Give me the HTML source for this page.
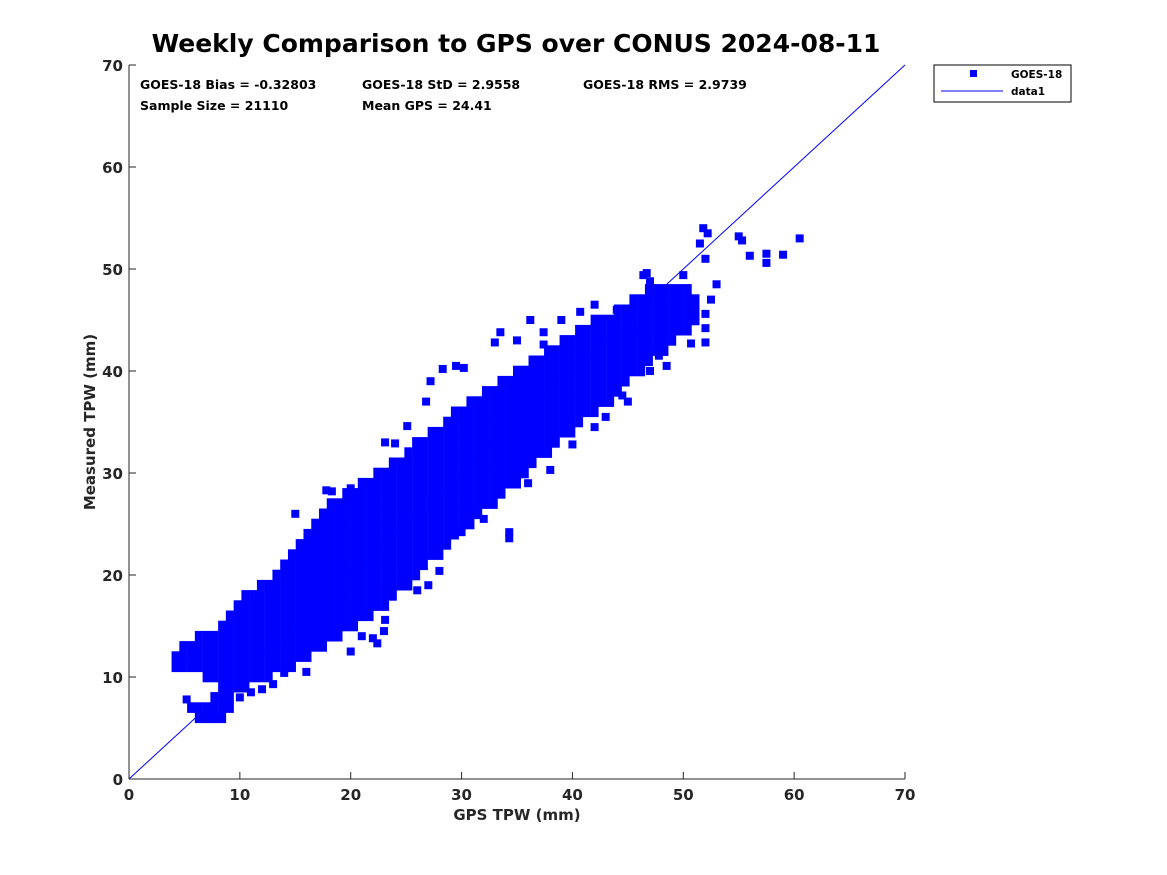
<!DOCTYPE html>
<html><head><meta charset="utf-8"><style>
body{margin:0;background:#fff;}
svg{display:block;font-family:"DejaVu Sans","Liberation Sans",sans-serif;}
</style></head><body>
<svg id="chart" width="1167" height="875">
<rect width="1167" height="875" fill="#fff"/>
<text x="516" y="52" text-anchor="middle" font-size="25" font-weight="bold" fill="#000">Weekly Comparison to GPS over CONUS 2024-08-11</text>
<g id="axes"></g>
<g id="pts"></g>
<g id="ann" font-size="12.5" font-weight="bold" fill="#000">
<text x="140" y="89">GOES-18 Bias = -0.32803</text>
<text x="362" y="89">GOES-18 StD = 2.9558</text>
<text x="583" y="89">GOES-18 RMS = 2.9739</text>
<text x="140" y="110">Sample Size = 21110</text>
<text x="362" y="110">Mean GPS = 24.41</text>
</g>
<g>
<rect x="934" y="65" width="137" height="37" fill="#fff" stroke="#000" stroke-width="1"/>
<rect x="970" y="70" width="7" height="7" fill="#0000ff"/>
<text x="1011" y="78" font-size="10.5" font-weight="bold">GOES-18</text>
<line x1="941" y1="91" x2="1003" y2="91" stroke="#0000ff" stroke-width="1"/>
<text x="1011" y="95" font-size="10.5" font-weight="bold">data1</text>
</g>
</svg>
<script>
const colX=[4.2,4.9,5.6,6.3,7.0,7.7,8.4,9.1,9.8,10.5,11.2,11.9,12.6,13.3,14.0,14.7,15.4,16.1,16.8,17.5,18.2,18.9,19.6,20.3,21.0,21.7,22.4,23.1,23.8,24.5,25.2,25.9,26.6,27.3,28.0,28.7,29.4,30.1,30.8,31.5,32.2,32.9,33.6,34.3,35.0,35.7,36.4,37.1,37.8,38.5,39.2,39.9,40.6,41.3,42.0,42.7,43.4,44.1,44.8,45.5,46.2,46.9,47.6,48.3,49.0,49.7,50.4,51.1];
const colY=[
[11,12],[11,12,13],[7,11,12,13],[6,7,11,12,13,14],[6,7,10,11,12,13,14],[6,7,8,10,11,12,13,14],
[6,7,8,9,10,11,12,13,14,15],[7,8,9,10,11,12,13,14,15,16],[9,10,11,12,13,14,15,16,17],
[9,10,11,12,13,14,15,16,17,18],[10,11,12,13,14,15,16,17,18],[10,11,12,13,14,15,16,17,18,19],
[10,11,12,13,14,15,16,17,18,19],[11,12,13,14,15,16,17,18,19,20],[11,12,13,14,15,16,17,18,19,20,21],
[11,12,13,14,15,16,17,18,19,20,21,22],[12,13,14,15,16,17,18,19,20,21,22,23],
[12,13,14,15,16,17,18,19,20,21,22,23,24],[13,14,15,16,17,18,19,20,21,22,23,24,25],
[13,14,15,16,17,18,19,20,21,22,23,24,25,26],[14,15,16,17,18,19,20,21,22,23,24,25,26,27],
[14,15,16,17,18,19,20,21,22,23,24,25,26,27],[15,16,17,18,19,20,21,22,23,24,25,26,27,28],
[15,16,17,18,19,20,21,22,23,24,25,26,27,28],[16,17,18,19,20,21,22,23,24,25,26,27,28,29],
[16,17,18,19,20,21,22,23,24,25,26,27,28,29],[17,18,19,20,21,22,23,24,25,26,27,28,29,30],
[17,18,19,20,21,22,23,24,25,26,27,28,29,30],[18,19,20,21,22,23,24,25,26,27,28,29,30,31],
[19,20,21,22,23,24,25,26,27,28,29,30,31],[19,20,21,22,23,24,25,26,27,28,29,30,31,32],
[20,21,22,23,24,25,26,27,28,29,30,31,32,33],[21,22,23,24,25,26,27,28,29,30,31,32,33],
[22,23,24,25,26,27,28,29,30,31,32,33,34],[22,23,24,25,26,27,28,29,30,31,32,33,34],
[23,24,25,26,27,28,29,30,31,32,33,34,35],[24,25,26,27,28,29,30,31,32,33,34,35,36],
[25,26,27,28,29,30,31,32,33,34,35,36],[25,26,27,28,29,30,31,32,33,34,35,36,37],
[26,27,28,29,30,31,32,33,34,35,36,37],[27,28,29,30,31,32,33,34,35,36,37,38],
[27,28,29,30,31,32,33,34,35,36,37,38],[28,29,30,31,32,33,34,35,36,37,38,39],
[29,30,31,32,33,34,35,36,37,38,39],[29,30,31,32,33,34,35,36,37,38,39,40],
[30,31,32,33,34,35,36,37,38,39,40],[31,32,33,34,35,36,37,38,39,40,41],
[32,33,34,35,36,37,38,39,40,41],[32,33,34,35,36,37,38,39,40,41,42],
[33,34,35,36,37,38,39,40,41,42],[34,35,36,37,38,39,40,41,42,43],
[34,35,36,37,38,39,40,41,42,43],[35,36,37,38,39,40,41,42,43,44],
[36,37,38,39,40,41,42,43,44],[36,37,38,39,40,41,42,43,44,45],
[37,38,39,40,41,42,43,44,45],[37,38,39,40,41,42,43,44,45],
[38,39,40,41,42,43,44,45,46],[39,40,41,42,43,44,45,46],[40,41,42,43,44,45,46,47],
[40,41,42,43,44,45,46,47],[41,42,43,44,45,46,47,48],[42,43,44,45,46,47,48],
[42,43,44,45,46,47,48],[43,44,45,46,47,48],[44,45,46,47,48],[44,45,46,47,48],[45,46,47]
];
const outX=[5.2,15,17.8,18.3,20,27.2,28.3,29.5,30.2,33.5,33,36.2,37.4,37.4,39,40.7,42,44,46.4,46.7,47,50,51.5,51.8,52.2,52,55,55.3,56,57.5,57.5,59,60.5,53,52.5,52,52,52,50.7,48.5,47,45,44.5,42,43,40,38,36,34.3,34.3,32,30,28,26,27,23,21,23.1,22.4,20,22,16,14,13,11,12,10,9,6.9,8,23.1,24,26.8,25.1,35,47.8,46,49.5];
const outY=[7.8,26,28.3,28.2,28.5,39,40.2,40.5,40.3,43.8,42.8,45,42.6,43.8,45,45.8,46.5,46,49.4,49.6,48.8,49.4,52.5,54,53.5,51,53.2,52.8,51.3,51.5,50.6,51.4,53,48.5,47,45.6,44.2,42.8,42.7,40.5,40,37,37.6,34.5,35.5,32.8,30.3,29,23.6,24.2,25.5,24.2,20.4,18.5,19,14.5,14,15.6,13.3,12.5,13.8,10.5,10.4,9.3,8.5,8.8,8,7.5,6,5.9,33,32.9,37,34.6,43,41.5,44,46];
const xTicks=[0,10,20,30,40,50,60,70];
const yTicks=[0,10,20,30,40,50,60,70];
const X0=129,X1=905,Y0=779,Y1=65;
const sx=v=>X0+(v/70)*(X1-X0);
const sy=v=>Y0-(v/70)*(Y0-Y1);
const NS='http://www.w3.org/2000/svg';
const axes=document.getElementById('axes');
const pts=document.getElementById('pts');
function mk(tag,attrs,parent){const e=document.createElementNS(NS,tag);for(const k in attrs)e.setAttribute(k,attrs[k]);parent.appendChild(e);return e;}
function pt(x,y,h){
 const r=mk('rect',{x:sx(x)-4,y:sy(y)-h/2,width:8,height:h,fill:'#0000ff'},pts);
 
 
}
colX.forEach((x,i)=>colY[i].forEach(y=>pt(x,y,10.6)));
outX.forEach((x,i)=>pt(x,outY[i],8));
const ln=mk('line',{x1:sx(0),y1:sy(0),x2:sx(70),y2:sy(70),stroke:'#0000ff','stroke-width':1},axes);


const xa=mk('line',{x1:X0,y1:Y0,x2:X1,y2:Y0,stroke:'#262626','stroke-width':1},axes);


const ya=mk('line',{x1:X0,y1:Y0,x2:X0,y2:Y1,stroke:'#262626','stroke-width':1},axes);


xTicks.forEach(t=>{
 mk('line',{x1:sx(t),y1:Y0,x2:sx(t),y2:Y0-7,stroke:'#262626'},axes);
 const tx=mk('text',{x:sx(t),y:Y0+21,'text-anchor':'middle','font-size':15,'font-weight':'bold',fill:'#262626'},axes);
 tx.textContent=t;
 
 
});
yTicks.forEach(t=>{
 mk('line',{x1:X0,y1:sy(t),x2:X0+7,y2:sy(t),stroke:'#262626'},axes);
 const tx=mk('text',{x:X0-6,y:sy(t)+6,'text-anchor':'end','font-size':15,'font-weight':'bold',fill:'#262626'},axes);
 tx.textContent=t;
 
 
});
const xt=mk('text',{x:517,y:820,'text-anchor':'middle','font-size':15,'font-weight':'bold',fill:'#262626'},axes);
xt.textContent='GPS TPW (mm)';


const yt=mk('text',{x:95,y:422,'text-anchor':'middle','font-size':15,'font-weight':'bold',fill:'#262626',transform:'rotate(-90 95 422)'},axes);
yt.textContent='Measured TPW (mm)';


</script>
</body></html>
